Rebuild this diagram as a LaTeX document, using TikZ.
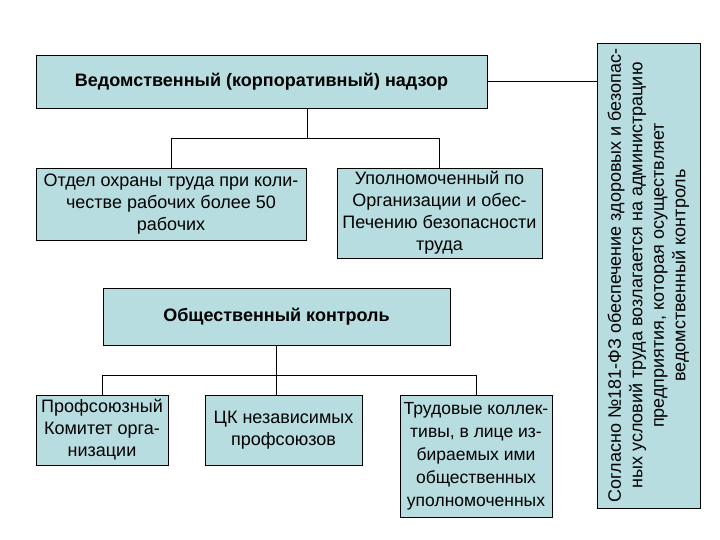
\documentclass[tikz,border=0pt]{standalone}
\usepackage{fontspec}
\setmainfont{Liberation Sans}
\definecolor{boxfill}{RGB}{184,221,224}
\begin{document}
\begin{tikzpicture}[x=1pt,y=-1pt,
  box/.style={draw=black, line width=0.9pt, fill=boxfill, inner sep=1pt, align=center, font=\fontsize{18}{22}\selectfont},
  bbox/.style={box, font=\fontsize{18}{22}\selectfont\bfseries},
  conn/.style={draw=black, line width=0.9pt}]
\useasboundingbox (0,0) rectangle (720,540);
\fill[white] (0,0) rectangle (720,540);
\node[bbox, minimum width=451pt, minimum height=53pt] (top) at (261.5,81.5) {Ведомственный (корпоративный) надзор};
\node[box, rotate=90, minimum width=465pt, minimum height=103pt, font=\fontsize{18}{21.5}\selectfont] (side) at (648.5,275.5)
  {Согласно №181-ФЗ обеспечение здоровых и безопас-\\ных условий труда возлагается на администрацию\\предприятия, которая осуществляет\\ведомственный контроль};
\node[box, minimum width=270pt, minimum height=72pt] (left) at (171,204) {Отдел охраны труда при коли-\\честве рабочих более 50\\рабочих};
\node[box, minimum width=205pt, minimum height=90pt] (right) at (439.5,213) {Уполномоченный по\\Организации и обес-\\Печению безопасности\\труда};
\node[bbox, minimum width=347pt, minimum height=57pt] (mid) at (276.5,316.5) {Общественный контроль};
\node[box, minimum width=132pt, minimum height=70pt] (b1) at (102,430) {Профсоюзный\\Комитет орга-\\низации};
\node[box, minimum width=157pt, minimum height=70pt] (b2) at (283.5,430) {ЦК независимых\\профсоюзов};
\node[box, minimum width=152pt, minimum height=122pt, font=\fontsize{17.5}{23}\selectfont] (b3) at (476,456) {Трудовые коллек-\\тивы, в лице из-\\бираемых ими\\общественных\\уполномоченных};
\coordinate (j1) at (307,138);
\coordinate (j2) at (277,375);
\draw[conn] (top.east) -- (top.east -| side.north);
\draw[conn] (top.south -| j1) -- (j1);
\draw[conn] (left.north) -- (left.north |- j1) -- (right.north |- j1) -- (right.north);
\draw[conn] (mid.south) -- (mid.south |- b2.north);
\draw[conn] (b1.north) -- (b1.north |- j2) -- (b3.north |- j2) -- (b3.north);
\end{tikzpicture}
\end{document}
